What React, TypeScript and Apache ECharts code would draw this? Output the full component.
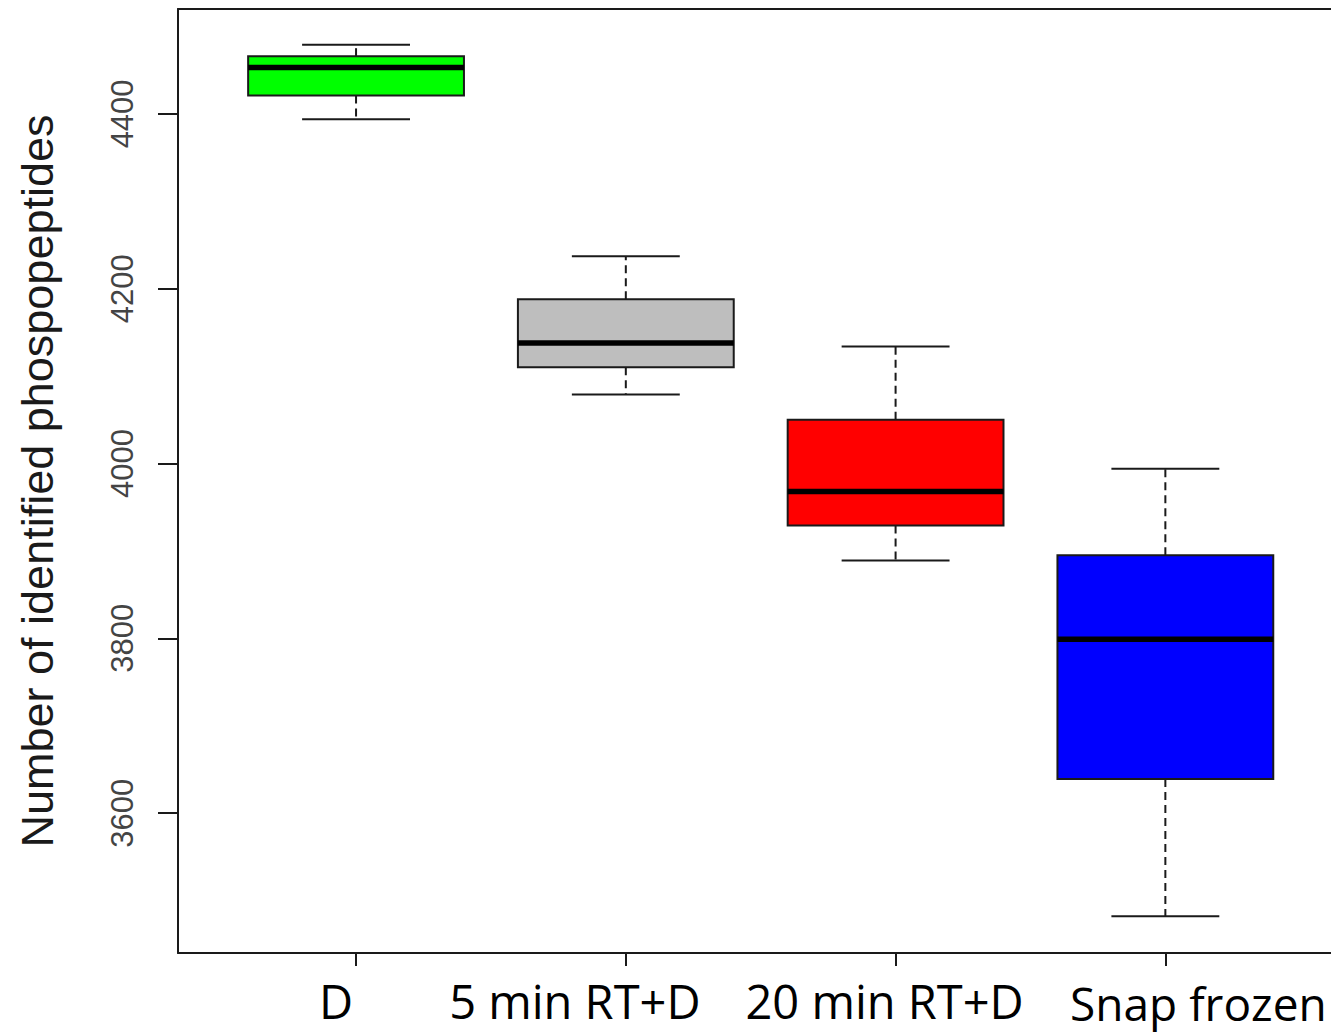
import React, { useEffect, useRef } from "react";
import * as echarts from "echarts";

const categories = ["D", "5 min RT+D", "20 min RT+D", "Snap frozen"];
const whiskerLow = [4394, 4079, 3889, 3482];
const q1 = [4421, 4110, 3929, 3639];
const median = [4453, 4138, 3968, 3799];
const q3 = [4466, 4188, 4050, 3895];
const whiskerHigh = [4479, 4237, 4134, 3994];
const yTicks = [3600, 3800, 4000, 4200, 4400];
const boxColors = ["#00FF00", "#BEBEBE", "#FF0000", "#0000FF"];

export default function App() {
  const ref = useRef<HTMLDivElement>(null);
  useEffect(() => {
    if (!ref.current) return;
    const chart = echarts.init(ref.current, null, { renderer: "svg" });
    const data = categories.map((_, i) => [i + 1, whiskerLow[i], q1[i], median[i], q3[i], whiskerHigh[i], i]);
    const line = "#1a1a1a";
    const frameLine = { show: true, lineStyle: { color: line, width: 2 } };
    chart.setOption({
      animation: false,
      backgroundColor: "#ffffff",
      grid: {
        left: 178,
        top: 9,
        width: 1154,
        height: 944,
        show: false,
      },
      xAxis: [
        {
          type: "value",
          position: "bottom",
          min: 0.34,
          max: 4.614,
          splitLine: { show: false },
          axisLine: frameLine,
          axisTick: {
            show: true,
            customValues: [1, 2, 3, 4],
            length: 13,
            lineStyle: { color: line, width: 2 },
          },
          axisLabel: {
            show: true,
            customValues: [1, 2, 3, 4],
            margin: 24,
            fontFamily: "Open Sans",
            fontSize: 47,
            color: "#000",
            formatter: (v: number) => {
              const i = Math.round(v) - 1;
              return `{c${i}|${categories[i]}}`;
            },
            rich: {
              c0: { fontFamily: "Open Sans", fontSize: 47, color: "#000", padding: [0, 40, 0, 0] },
              c1: { fontFamily: "Open Sans", fontSize: 47, color: "#000", padding: [0, 102, 0, 0] },
              c2: { fontFamily: "Open Sans", fontSize: 47, color: "#000", padding: [0, 22, 0, 0] },
              c3: { fontFamily: "Open Sans", fontSize: 46, color: "#000", padding: [3, 0, 0, 66] },
            },
          },
        },
        {
          type: "value",
          position: "top",
          min: 0.34,
          max: 4.614,
          splitLine: { show: false },
          axisLine: frameLine,
          axisTick: { show: false },
          axisLabel: { show: false },
        },
      ],
      yAxis: {
        type: "value",
        min: 3440,
        max: 4520,
        name: "Number of identified phospopeptides",
        nameLocation: "middle",
        nameGap: 118,
        nameRotate: 90,
        nameTextStyle: { fontFamily: "Liberation Sans, Arial", fontSize: 45, color: "#1a1a1a" },
        splitLine: { show: false },
        axisLine: frameLine,
        axisTick: {
          show: true,
          customValues: yTicks,
          length: 20,
          lineStyle: { color: line, width: 2 },
        },
        axisLabel: {
          show: true,
          customValues: yTicks,
          rotate: 90,
          margin: 40,
          fontFamily: "Liberation Sans, Arial",
          fontSize: 31,
          color: "#444",
          formatter: (v: number) => String(v),
        },
      },
      series: [
        {
          type: "custom",
          clip: false,
          xAxisIndex: 0,
          encode: { x: 0, y: [1, 2, 3, 4, 5] },
          data,
          renderItem: (params: any, api: any) => {
            const x = api.value(0);
            const lo = api.value(1);
            const b1 = api.value(2);
            const md = api.value(3);
            const b3 = api.value(4);
            const hi = api.value(5);
            const ci = api.value(6);
            const c = (xx: number, yy: number) => api.coord([xx, yy]);
            const pHi = c(x, hi);
            const pQ3 = c(x, b3);
            const pQ1 = c(x, b1);
            const pLo = c(x, lo);
            const tl = c(x - 0.4, b3);
            const br = c(x + 0.4, b1);
            const capL = c(x - 0.2, hi);
            const capR = c(x + 0.2, hi);
            const capL2 = c(x - 0.2, lo);
            const capR2 = c(x + 0.2, lo);
            const mL = c(x - 0.4, md);
            const mR = c(x + 0.4, md);
            const dash = { stroke: line, lineWidth: 2, lineDash: [8, 5] };
            const solid = { stroke: line, lineWidth: 2 };
            return {
              type: "group",
              children: [
                { type: "line", shape: { x1: pQ3[0], y1: pQ3[1], x2: pHi[0], y2: pHi[1] }, style: dash },
                { type: "line", shape: { x1: pQ1[0], y1: pQ1[1], x2: pLo[0], y2: pLo[1] }, style: dash },
                { type: "line", shape: { x1: capL[0], y1: capL[1], x2: capR[0], y2: capR[1] }, style: solid },
                { type: "line", shape: { x1: capL2[0], y1: capL2[1], x2: capR2[0], y2: capR2[1] }, style: solid },
                {
                  type: "rect",
                  shape: { x: tl[0], y: tl[1], width: br[0] - tl[0], height: br[1] - tl[1] },
                  style: { fill: boxColors[ci], stroke: line, lineWidth: 2 },
                },
                {
                  type: "line",
                  shape: { x1: mL[0], y1: mL[1], x2: mR[0], y2: mR[1] },
                  style: { stroke: "#000", lineWidth: 5.5 },
                },
              ],
            };
          },
        },
      ],
    });
    return () => chart.dispose();
  }, []);
  return (
    <div
      ref={ref}
      style={{ position: "fixed", left: 0, top: 0, width: 1331, height: 1036, background: "#fff" }}
    />
  );
}
